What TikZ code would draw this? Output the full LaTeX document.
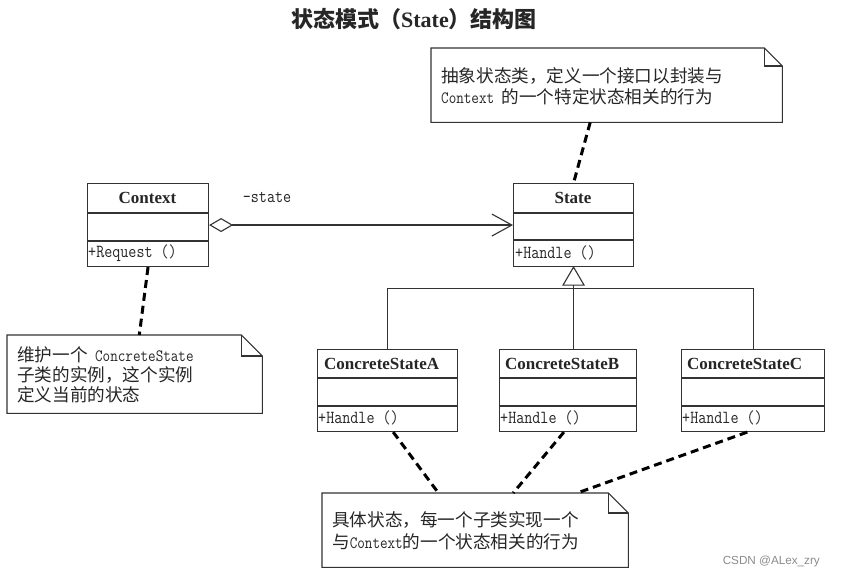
\documentclass[tikz,border=0pt]{standalone}
\usepackage{fontspec}
\newfontfamily\cjk{Noto Sans CJK SC}
\newfontfamily\serifb{Liberation Serif}
\newfontfamily\wmfont{Liberation Sans}
\newfontfamily\monoc{Latin Modern Mono}[FakeStretch=0.85]
\usetikzlibrary{arrows.meta,calc}
\newcommand{\zh}[1]{{\cjk\fontsize{17.6}{18}\selectfont #1}}
\begin{document}
\begin{tikzpicture}[x=1pt,y=-1pt,
  classbox/.style={draw=black!80,line width=1.1pt,fill=white,anchor=north west,inner sep=0pt},
  part/.style={draw=black!80,line width=1.1pt},
  notebox/.style={anchor=north west,inner sep=0pt},
  noteline/.style={draw=black!80,line width=1.1pt},
  dashl/.style={draw=black,line width=3pt,dash pattern=on 8pt off 5pt},
  cname/.style={inner sep=0pt,font=\serifb\bfseries\fontsize{17}{17}\selectfont,text=black!85},
  cop/.style={inner sep=0pt,anchor=west,font=\monoc\fontsize{18.4}{18}\selectfont,text=black!85},
  ntext/.style={inner sep=0pt,anchor=west,font=\monoc\fontsize{17.3}{18}\selectfont,text=black!85},
]
\useasboundingbox (0,0) rectangle (854,577);
\fill[white] (0,0) rectangle (854,577);

% title
\node[inner sep=0pt,text=black!85] (title) at (414,19)
  {\fontsize{22}{22}\selectfont\cjk\bfseries 状态模式（{\serifb\bfseries State}）结构图};

% ---------- classes ----------
\node[classbox,minimum width=121pt,minimum height=83pt] (ctx) at (87,183) {};
\draw[part] (87,213) -- (208,213);
\draw[part] (87,241) -- (208,241);
\node[cname] (ctxname) at (147.5,198) {Context};
\node[cop] (ctxop) at (88,253) {+Request ()};

\node[classbox,minimum width=120pt,minimum height=83pt] (state) at (513,183) {};
\draw[part] (513,213) -- (633,213);
\draw[part] (513,240) -- (633,240);
\node[cname] (statename) at (573,198) {State};
\node[cop] (stateop) at (515,253) {+Handle ()};

\node[classbox,minimum width=140pt,minimum height=82pt] (csa) at (317,349) {};
\draw[part] (317,378) -- (457,378);
\draw[part] (317,406) -- (457,406);
\node[cname,anchor=west] (csaname) at (324,364) {ConcreteStateA};
\node[cop] (csaop) at (318,418) {+Handle ()};

\node[classbox,minimum width=137pt,minimum height=82pt] (csb) at (499,349) {};
\draw[part] (499,378) -- (636,378);
\draw[part] (499,406) -- (636,406);
\node[cname,anchor=west] (csbname) at (505,364) {ConcreteStateB};
\node[cop] (csbop) at (500,418) {+Handle ()};

\node[classbox,minimum width=143pt,minimum height=82pt] (csc) at (681,349) {};
\draw[part] (681,378) -- (824,378);
\draw[part] (681,406) -- (824,406);
\node[cname,anchor=west] (cscname) at (687,364) {ConcreteStateC};
\node[cop] (cscop) at (682,418) {+Handle ()};

% association
\draw[draw=black!80,line width=1.1pt,
  {Diamond[open,length=24pt,width=14pt]}-{Straight Barb[length=20pt,width=22pt]}]
  (ctx.east) -- (state.west);
\node[inner sep=0pt,font=\monoc\fontsize{18.4}{18}\selectfont,text=black!85] (rolelbl) at (267,197) {-state};

% generalization
\draw[draw=black!80,line width=1.1pt,fill=white] (state.south) -- ++(-10.5,18) -- ++(21,0) -- cycle;
\coordinate (bar) at ($(state.south)+(0,21)$);
\draw[draw=black!80,line width=1.1pt] ($(state.south)+(0,18)$) -- (state.south |- csb.north);
\draw[draw=black!80,line width=1.1pt] (csa.north) |- (bar) -| (csc.north);

% ---------- notes ----------
\node[notebox,minimum width=351pt,minimum height=74pt] (n1) at (431,48) {};
\draw[noteline] (n1.north west) -- ($(n1.north east)+(-18,0)$) -- ($(n1.north east)+(0,18)$)
  -- (n1.south east) -- (n1.south west) -- cycle;
\draw[noteline] ($(n1.north east)+(-18,0)$) |- ($(n1.north east)+(0,18)$);
\node[ntext] (n1a) at (441,76) {\zh{抽象状态类，定义一个接口以封装与}};
\node[ntext] (n1b) at (441,97) {Context \zh{的一个特定状态相关的行为}};

\node[notebox,minimum width=255pt,minimum height=78pt] (n2) at (7,335) {};
\draw[noteline] (n2.north west) -- ($(n2.north east)+(-21,0)$) -- ($(n2.north east)+(0,21)$)
  -- (n2.south east) -- (n2.south west) -- cycle;
\draw[noteline] ($(n2.north east)+(-21,0)$) |- ($(n2.north east)+(0,21)$);
\node[ntext] (n2a) at (17,355) {\zh{维护一个} ConcreteState};
\node[ntext] (n2b) at (17,375) {\zh{子类的实例，这个实例}};
\node[ntext] (n2c) at (17,395) {\zh{定义当前的状态}};

\node[notebox,minimum width=306pt,minimum height=74pt] (n3) at (322,493) {};
\draw[noteline] (n3.north west) -- ($(n3.north east)+(-20,0)$) -- ($(n3.north east)+(0,20)$)
  -- (n3.south east) -- (n3.south west) -- cycle;
\draw[noteline] ($(n3.north east)+(-20,0)$) |- ($(n3.north east)+(0,20)$);
\node[ntext] (n3a) at (332,520) {\zh{具体状态，每一个子类实现一个}};
\node[ntext] (n3b) at (332,542) {\zh{与}Context\zh{的一个状态相关的行为}};

% note anchors (dashed)
\draw[dashl] ($(n1.south west)!0.453!(n1.south east)$) -- (state.north);
\draw[dashl] (ctx.south) -- ($(n2.north west)!0.518!(n2.north east)$);
\draw[dashl] ($(csa.south west)!0.54!(csa.south east)$) -- ($(n3.north west)!0.38!(n3.north east)$);
\draw[dashl] ($(csb.south west)!0.47!(csb.south east)$) -- ($(n3.north west)!0.624!(n3.north east)$);
\draw[dashl] ($(csc.south west)!0.46!(csc.south east)$) -- ($(n3.north west)!0.833!(n3.north east)$);

% watermark
\node[inner sep=0pt,anchor=east,font=\wmfont\fontsize{11.7}{12}\selectfont,text=black!45] (wm) at (820,561) {CSDN @ALex\_zry};
\end{tikzpicture}
\end{document}
